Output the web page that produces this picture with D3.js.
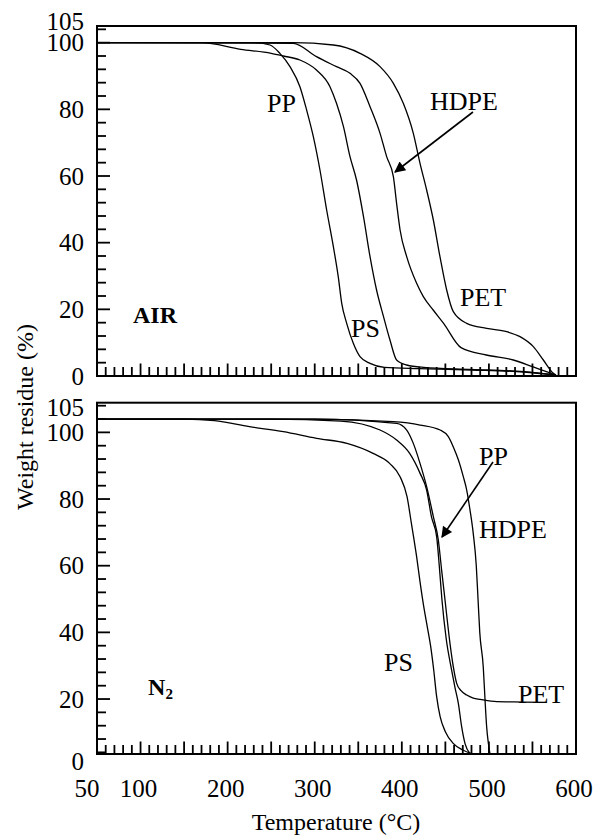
<!DOCTYPE html>
<html>
<head>
<meta charset="utf-8">
<script src="https://cdn.jsdelivr.net/npm/d3@7"></script>
<style>
  body { margin: 0; background: #fff; }
  svg { display: block; }
  text { font-family: "Liberation Serif", "Times New Roman", serif; fill: #000; }
</style>
</head>
<body>
<div id="content"></div>
<script>
// Temperature (°C) and weight residue (%)

// AIR panel
const airPP_T   = [50, 230, 248.6, 260, 271.6, 283, 290.7, 298.4, 306, 313.7, 321.4, 327, 331, 336.7, 344.3, 352, 363.5, 380, 420, 480, 540, 577];
const airPP_W   = [100, 100, 99.3, 96.8, 92.8, 86.8, 79.8, 71.8, 61.8, 49.8, 38.8, 29.8, 21.8, 15.8, 9.8, 5.8, 3.8, 2.6, 2.2, 1.8, 1.2, 0.3];
const airPS_T   = [50, 170, 215, 250, 264, 283, 302, 317.5, 325, 333, 340.5, 348, 356, 363.5, 371, 379, 386.4, 394, 405.6, 425, 480, 540, 577];
const airPS_W   = [100, 100, 98, 96.8, 96, 94.8, 91.8, 86.8, 81.8, 74.8, 65.8, 58.8, 47.8, 35.8, 25.8, 17.8, 10.8, 4.8, 3.3, 2.6, 2, 1.3, 0.3];
const airHDPE_T = [50, 275.4, 302, 325, 340.5, 352, 363.5, 375, 382.6, 390.3, 394, 398, 405.6, 417, 424.7, 436, 448, 468, 497, 528, 550, 566, 577];
const airHDPE_W = [100, 99.8, 95.8, 92.8, 90.8, 87.8, 80.8, 72.8, 65.8, 59.8, 51.8, 43.8, 35.8, 27.8, 23.8, 19.8, 15.8, 8.5, 6.3, 4.8, 2.8, 1.3, 0.3];
const airPET_T  = [50, 275, 321.4, 352, 375, 390.3, 401.7, 413.2, 420.9, 428.5, 436.2, 443.8, 451.5, 459.1, 474.5, 497.4, 520.4, 535.7, 551, 562.5, 574, 577];
const airPET_W  = [100, 100, 99.3, 96.8, 92.8, 87.8, 81.8, 72.8, 63.8, 55.8, 46.8, 35.8, 25.8, 19.3, 15.8, 14.3, 13.3, 11.8, 8.8, 4.8, 0.8, 0.3];

// N2 panel
const n2PS_T   = [50, 150, 185, 225, 264, 302, 337, 367, 386, 398, 406, 411, 417, 421, 425, 429, 433, 436.5, 440, 444, 450, 459, 470, 480];
const n2PS_W   = [104, 104, 103.5, 101.7, 100.2, 98.2, 96.7, 93.7, 90.7, 86.7, 80.7, 72.7, 62.7, 55, 48, 42, 36, 29, 20.7, 14.7, 10.2, 6.7, 4.7, 3.6];
const n2PP_T   = [50, 250, 330, 375, 394, 409, 421, 428.5, 434, 440, 443, 446, 451, 457.2, 461, 464.9, 468.7, 472.5, 478.3];
const n2PP_W   = [104, 104, 103.4, 100.7, 97.7, 93.7, 87.7, 82.7, 74.7, 68.7, 60, 50, 38, 28.7, 23.5, 18.7, 11.7, 6.7, 3.6];
const n2PET_T  = [50, 300, 394, 405.6, 413.2, 420.9, 428.5, 436.2, 441.9, 446, 449.6, 455.3, 459.1, 463, 468, 474.5, 482, 490, 509, 540, 566];
const n2PET_W  = [104, 104, 102.7, 100.7, 96.7, 90.7, 83.7, 74.7, 67.7, 58, 49.7, 36.7, 29.7, 24.7, 22.5, 21.2, 20.3, 19.9, 19.2, 19.1, 19];
const n2HDPE_T = [50, 300, 390, 421, 444, 453.4, 459, 465, 470.6, 474.5, 478.3, 482, 485.5, 487.5, 489.5, 493.5, 495.5, 497.4, 499.5, 501.2];
const n2HDPE_W = [104, 104, 103.2, 102.2, 100.7, 98.7, 95.7, 91.7, 86.7, 82.7, 76.7, 69.7, 60, 50, 40, 29.7, 20, 11.7, 6.5, 3.6];

// ticks
const xMajorTicks = [100, 150, 200, 250, 300, 350, 400, 450, 500, 550];
const xMinorTicks = d3.range(60, 600, 10).filter(v => v % 50 !== 0);
const xLabels = [50, 100, 200, 300, 400, 500, 600];
const yMajorTicks = [0, 20, 40, 60, 80, 100];
const yMinorTicks = d3.range(4, 109, 4).filter(v => v % 20 !== 0);
const yLabels = [0, 20, 40, 60, 80, 100, 105];

// curve labels [T, W, text]
const airLabels = [[245.2, 79.2, "PP"], [432.4, 79.8, "HDPE"], [466.8, 21, "PET"], [341.7, 11.7, "PS"]];
const n2Labels  = [[488.6, 90.2, "PP"], [488.6, 68.3, "HDPE"], [379.5, 28.4, "PS"], [533.4, 18.8, "PET"]];
const airArrow = [[481.7, 79.2], [392.2, 61.2]];
const n2Arrow  = [[504.7, 91.1], [446.1, 68.6]];

const width = 598, height = 836;
const svg = d3.select("#content").append("svg")
  .attr("width", width).attr("height", height);

const x = d3.scaleLinear().domain([50, 600]).range([97, 576]);

svg.append("defs").append("marker")
  .attr("id", "head").attr("viewBox", "0 0 10 10")
  .attr("refX", 9).attr("refY", 5)
  .attr("markerWidth", 15).attr("markerHeight", 11)
  .attr("markerUnits", "userSpaceOnUse")
  .attr("orient", "auto")
  .append("path").attr("d", "M0,0L10,5L0,10Z").attr("fill", "#000");

function panel(frameTop, frameBottom, y, series, labels, arrow, name, sub, nudge105, nudge0) {
  const g = svg.append("g");
  const clipId = "clip" + Math.round(frameTop);
  g.append("clipPath").attr("id", clipId)
    .append("rect").attr("x", 97).attr("y", frameTop).attr("width", 576 - 97).attr("height", frameBottom - frameTop);

  // x ticks (inward, along the bottom)
  g.selectAll(".xmin").data(xMinorTicks).join("line")
    .attr("x1", d => x(d)).attr("x2", d => x(d))
    .attr("y1", frameBottom).attr("y2", frameBottom - 9)
    .attr("stroke", "#000").attr("stroke-width", 1.8);
  g.selectAll(".xmaj").data(xMajorTicks).join("line")
    .attr("x1", d => x(d)).attr("x2", d => x(d))
    .attr("y1", frameBottom).attr("y2", frameBottom - 12.5)
    .attr("stroke", "#000").attr("stroke-width", 1.8);

  // y ticks (inward, along the left)
  const inside = v => y(v) >= frameTop + 2 && y(v) <= frameBottom;
  g.selectAll(".ymin").data(yMinorTicks.filter(inside)).join("line")
    .attr("x1", 97).attr("x2", 106)
    .attr("y1", d => y(d)).attr("y2", d => y(d))
    .attr("stroke", "#000").attr("stroke-width", 1.8);
  g.selectAll(".ymaj").data(yMajorTicks.filter(inside)).join("line")
    .attr("x1", 97).attr("x2", 110)
    .attr("y1", d => y(d)).attr("y2", d => y(d))
    .attr("stroke", "#000").attr("stroke-width", 1.8);

  // y labels
  g.selectAll(".ylab").data(yLabels).join("text")
    .attr("x", 84)
    .attr("y", d => y(d) + (d === 105 ? nudge105 : d === 0 ? nudge0 : 0))
    .attr("text-anchor", "end")
    .attr("dominant-baseline", "central")
    .attr("font-size", 25)
    .text(d => d);

  // curves
  const line = d3.line().x(d => x(d[0])).y(d => y(d[1])).curve(d3.curveMonotoneX);
  g.append("g").attr("clip-path", `url(#${clipId})`)
    .selectAll("path").data(series).join("path")
    .attr("d", s => line(d3.zip(s[0], s[1])))
    .attr("fill", "none").attr("stroke", "#000").attr("stroke-width", 1.3);

  // frame
  g.append("rect")
    .attr("x", 97).attr("y", frameTop)
    .attr("width", 576 - 97).attr("height", frameBottom - frameTop)
    .attr("fill", "none").attr("stroke", "#000").attr("stroke-width", 2);

  // curve labels
  g.selectAll(".clab").data(labels).join("text")
    .attr("x", d => x(d[0])).attr("y", d => y(d[1]))
    .attr("font-size", 26)
    .text(d => d[2]);

  g.append("line")
    .attr("x1", x(arrow[0][0])).attr("y1", y(arrow[0][1]))
    .attr("x2", x(arrow[1][0])).attr("y2", y(arrow[1][1]))
    .attr("stroke", "#000").attr("stroke-width", 1.6)
    .attr("marker-end", "url(#head)");

  const t = g.append("text")
    .attr("x", x(name[0])).attr("y", y(name[1]))
    .attr("font-size", 24).attr("font-weight", "bold")
    .text(name[2]);
  if (sub) t.append("tspan").attr("font-size", 15).attr("dy", 4).text(sub);
}

const yAir = d3.scaleLinear().domain([0, 105]).range([376, 26]);
const yN2  = d3.scaleLinear().domain([0, 105]).range([765.7, 415.7]);

panel(26, 376, yAir,
  [[airPP_T, airPP_W], [airPS_T, airPS_W], [airHDPE_T, airHDPE_W], [airPET_T, airPET_W]],
  airLabels, airArrow, [91.3, 16, "AIR"], null, -5, 0);

panel(402.7, 754, yN2,
  [[n2PS_T, n2PS_W], [n2PP_T, n2PP_W], [n2PET_T, n2PET_W], [n2HDPE_T, n2HDPE_W]],
  n2Labels, n2Arrow, [108.6, 21.2, "N"], "2", -8, -4);

// x labels
svg.selectAll(".xlab").data(xLabels).join("text")
  .attr("x", d => d === 50 ? x(d) - 10 : x(d) - 2)
  .attr("y", 788)
  .attr("text-anchor", "middle")
  .attr("dominant-baseline", "central")
  .attr("font-size", 25)
  .text(d => d);

svg.append("text")
  .attr("x", 336).attr("y", 822)
  .attr("text-anchor", "middle").attr("dominant-baseline", "central")
  .attr("font-size", 24)
  .text("Temperature (°C)");

svg.append("text")
  .attr("transform", "translate(25,417) rotate(-90)")
  .attr("text-anchor", "middle").attr("dominant-baseline", "central")
  .attr("font-size", 24)
  .text("Weight residue (%)");
</script>
</body>
</html>
